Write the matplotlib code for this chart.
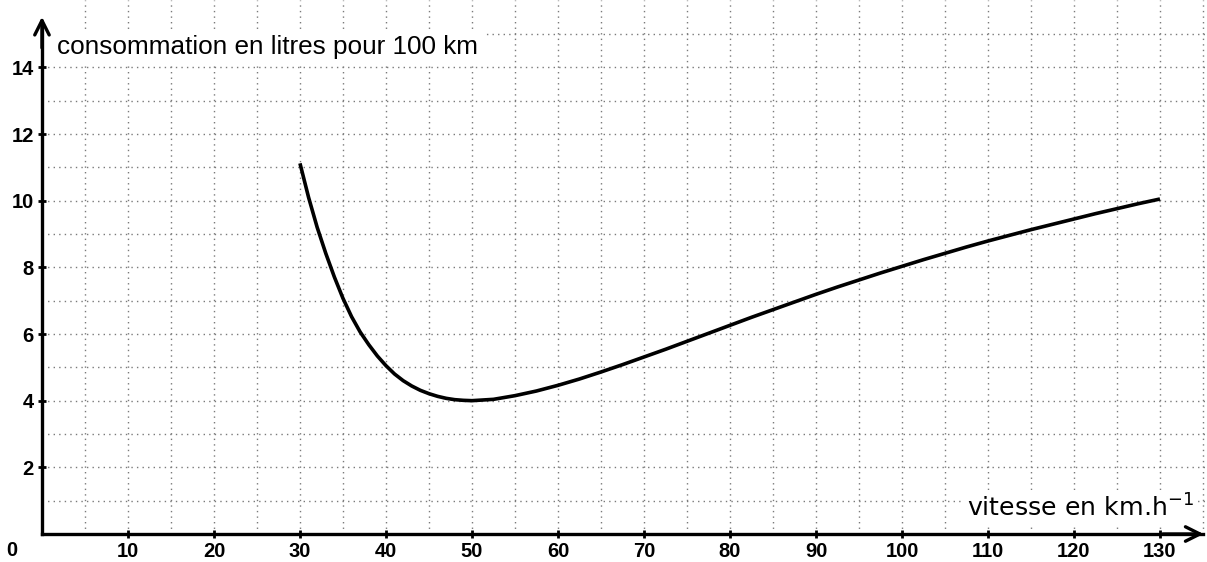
import matplotlib.pyplot as plt
import numpy as np

# speed (km/h) and consumption (L/100 km)
vitesse = [30, 31, 32, 33, 34, 35, 36, 37, 38, 39, 40, 41, 42, 43, 44, 45, 46, 47, 48, 49, 50,
           52.5, 55, 57.5, 60, 62.5, 65, 67.5, 70, 72.5, 75, 77.5, 80, 82.5, 85, 87.5, 90,
           92.5, 95, 97.5, 100, 102.5, 105, 107.5, 110, 112.5, 115, 117.5, 120, 122.5, 125,
           127.5, 130]
conso = [11.12, 10.1, 9.2, 8.42, 7.71, 7.07, 6.52, 6.06, 5.68, 5.34, 5.05, 4.8, 4.6, 4.44,
         4.31, 4.21, 4.13, 4.07, 4.03, 4.01, 4.0,
         4.04, 4.15, 4.29, 4.46, 4.65, 4.86, 5.08, 5.31, 5.54, 5.78, 6.02, 6.26, 6.50, 6.73,
         6.96, 7.19, 7.41, 7.62, 7.83, 8.03, 8.23, 8.42, 8.61, 8.79, 8.96, 9.13, 9.29, 9.45,
         9.61, 9.76, 9.91, 10.05]

xticks = [10, 20, 30, 40, 50, 60, 70, 80, 90, 100, 110, 120, 130]
yticks = [2, 4, 6, 8, 10, 12, 14]

fig = plt.figure(figsize=(12.07, 5.62), dpi=100)
ax = fig.add_axes([0, 0, 1, 1])
ax.set_xlim(-4.88, 135.47)
ax.set_ylim(-0.84, 16.02)

# dotted grid
grid_kw = dict(color='#7a7a7a', lw=1.0, linestyle=(0, (1, 3)), zorder=1)
ax.vlines(np.arange(5, 136, 5), 0, 16.02, **grid_kw)
ax.hlines(np.arange(1, 16), 0, 135.47, **grid_kw)

# axes with arrows
for s in ['top', 'right']:
    ax.spines[s].set_visible(False)
ax.spines['left'].set_position(('data', 0))
ax.spines['bottom'].set_position(('data', 0))
ax.spines['left'].set_bounds(0, 15.3)
ax.spines['bottom'].set_bounds(0, 135)
ax.spines['left'].set_linewidth(2.4)
ax.spines['bottom'].set_linewidth(2.4)
ax.spines['left'].set_zorder(5)
ax.spines['bottom'].set_zorder(5)
ax.annotate('', xy=(135.4, 0), xytext=(130, 0),
            arrowprops=dict(arrowstyle='->', lw=2.4, color='black', mutation_scale=26), zorder=6)
ax.annotate('', xy=(0, 15.6), xytext=(0, 14.5),
            arrowprops=dict(arrowstyle='->', lw=2.4, color='black', mutation_scale=26), zorder=6)

ax.set_xticks(xticks)
ax.set_yticks(yticks)
ax.tick_params(direction='inout', length=6, width=2, labelsize=14.5, pad=3)
for lab in ax.get_xticklabels() + ax.get_yticklabels():
    lab.set_fontfamily('Liberation Sans')
    lab.set_fontweight('bold')
ax.text(-3.5, -0.5, '0', ha='center', va='center', fontsize=14.5,
        fontweight='bold', family='Liberation Sans')

# curve
ax.plot(vitesse, conso, color='black', lw=2.6, zorder=4, solid_capstyle='butt')

# labels
ax.text(1.8, 14.6, 'consommation en litres pour 100 km', fontsize=18.8,
        family='Liberation Sans', ha='left', va='center', zorder=3,
        bbox=dict(fc='white', ec='none', pad=4))
ax.text(133.9, 0.78, r'vitesse en km.h$^{-1}$', fontsize=18.2, ha='right', va='center',
        zorder=3, bbox=dict(fc='white', ec='none', pad=3))

fig.savefig('out.png', dpi=100)
